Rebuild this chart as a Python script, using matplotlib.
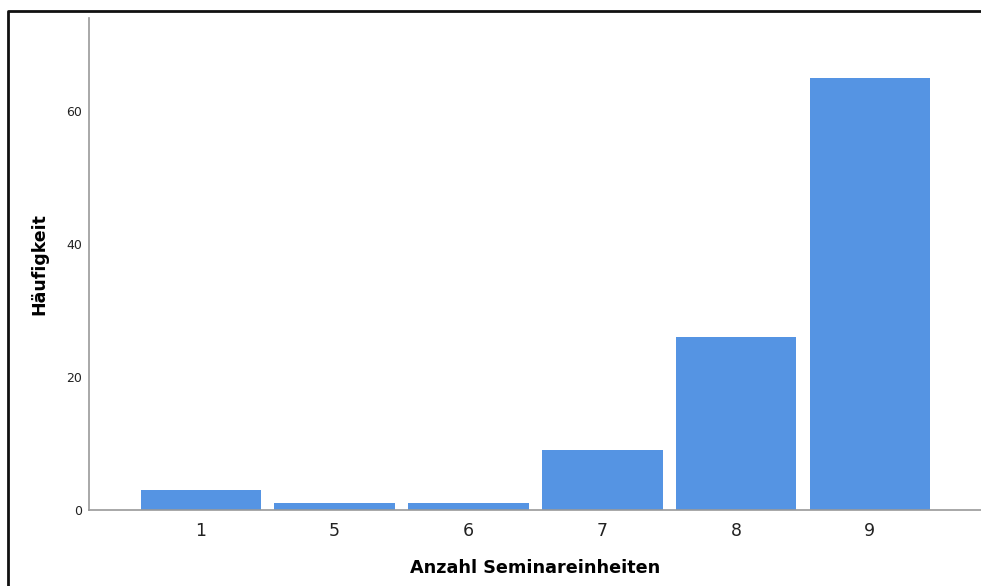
import matplotlib
matplotlib.use("Agg")
import matplotlib.pyplot as plt
from matplotlib.lines import Line2D

categories = ["1", "5", "6", "7", "8", "9"]
counts = [3, 1, 1, 9, 26, 65]
yticks = [0, 20, 40, 60]

plt.rcParams['font.family'] = ['DejaVu Sans']

fig = plt.figure(figsize=(9.81, 5.86), dpi=100)
ax = fig.add_axes([89/981, 1-510/586, 1-89/981, (510-18)/586])

x = list(range(len(categories)))
ax.bar(x, counts, width=0.9, color='#5594e3', edgecolor='none')
ax.set_xlim(-0.836, 5.83)
ax.set_ylim(0, 74)
ax.set_xticks(x)
ax.set_xticklabels(categories, fontsize=12.5)
ax.set_yticks(yticks)
ax.set_yticklabels([str(v) for v in yticks], fontsize=9)
ax.tick_params(axis='both', length=0, colors='#222222')
ax.tick_params(axis='x', pad=9)
ax.tick_params(axis='y', pad=5)
for s in ['top', 'right']:
    ax.spines[s].set_visible(False)
for s in ['left', 'bottom']:
    ax.spines[s].set_color('#999999')
    ax.spines[s].set_linewidth(1.2)

ax.set_xlabel('Anzahl Seminareinheiten', fontsize=12.7, fontweight='bold', labelpad=13)
ax.set_ylabel('Häufigkeit', fontsize=12.5, fontweight='bold', labelpad=13)

# outer frame (top and left edges)
fig.add_artist(Line2D([8/981, 8/981, 1.0], [0.0, 1-11/586, 1-11/586],
                      transform=fig.transFigure, color='#111111', linewidth=2))

fig.savefig('out.png', dpi=100)
